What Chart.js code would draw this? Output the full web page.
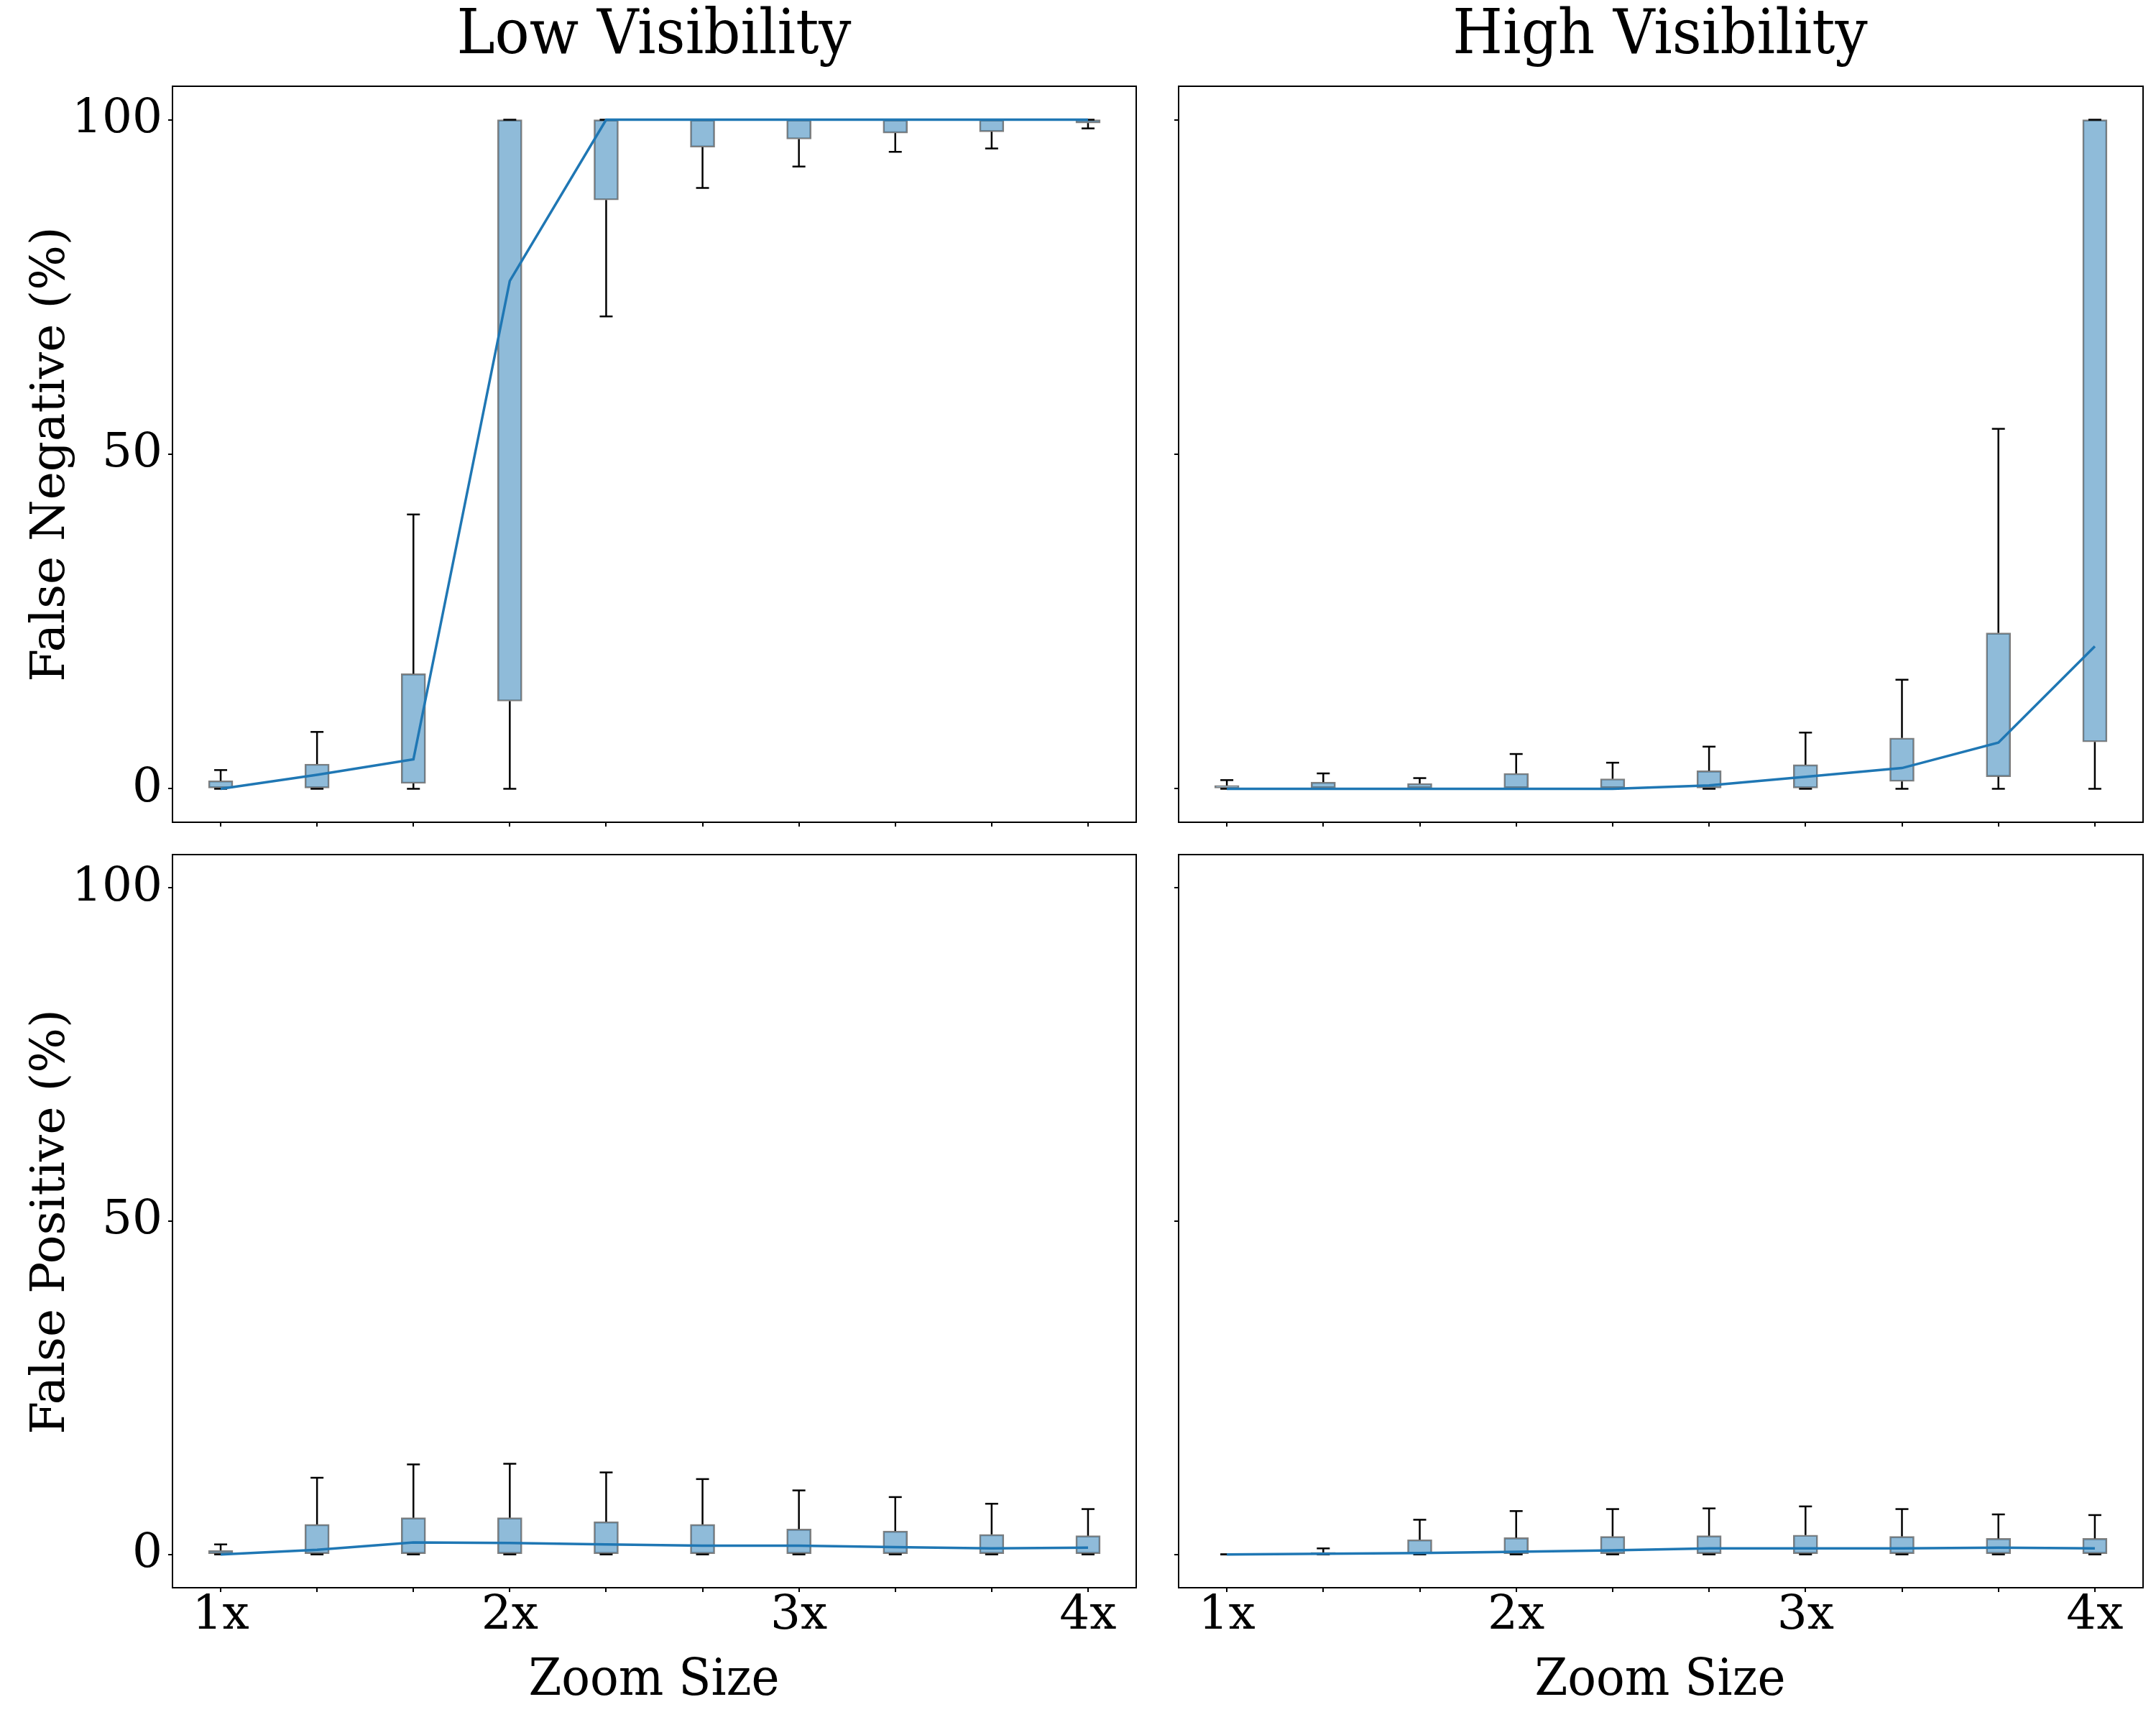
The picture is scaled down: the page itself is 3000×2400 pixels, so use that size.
<!DOCTYPE html>
<html>
<head>
<meta charset="utf-8">
<script src="https://cdn.jsdelivr.net/npm/chart.js@4.4.1/dist/chart.umd.min.js"></script>
<style>
  body { margin: 0; background: #fff; }
  #page { position: relative; width: 3000px; height: 2400px; background: #fff; font-family: 'DejaVu Serif', serif; }
  canvas { position: absolute; }
  .txt { position: absolute; transform: translate(-50%, -50%) scaleY(1.08); white-space: nowrap; color: #000; }
  .rot { transform: translate(-50%, -50%) rotate(-90deg); }
</style>
</head>
<body>
<div id="page">
  <div class="txt" style="left:910px; top:44px; font-size:80px;">Low Visibility</div>
  <div class="txt" style="left:2310px; top:44px; font-size:80px;">High Visibility</div>
  <div class="txt rot" style="left:66px; top:632px; font-size:66px;">False Negative (%)</div>
  <div class="txt rot" style="left:66px; top:1700px; font-size:66px;">False Positive (%)</div>
  <div class="txt" style="left:910px; top:2334px; font-size:66px;">Zoom Size</div>
  <div class="txt" style="left:2310px; top:2334px; font-size:66px;">Zoom Size</div>
  <canvas id="tl"></canvas>
  <canvas id="tr"></canvas>
  <canvas id="bl"></canvas>
  <canvas id="br"></canvas>
</div>
<script>
// zoom sizes, one box per step
var zoomSizes = ['1x', '1.33x', '1.67x', '2x', '2.33x', '2.67x', '3x', '3.33x', '3.67x', '4x'];
var tickLabels = ['1x', '', '', '2x', '', '', '3x', '', '', '4x'];
var yTicks = [0, 50, 100];

// False negative, low visibility
var lowFnQ1 = [0, 0, 0.8, 13.1, 88, 95.9, 97.1, 98.0, 98.2, 99.5];
var lowFnQ3 = [1.2, 3.7, 17.2, 100, 100, 100, 100, 100, 100, 100];
var lowFnLo = [0, 0, 0, 0, 70.6, 89.8, 93.0, 95.2, 95.7, 98.7];
var lowFnHi = [2.8, 8.5, 41, 100, 100, 100, 100, 100, 100, 100];
var lowFnMid = [0, 2.1, 4.4, 75.9, 100, 100, 100, 100, 100, 100];

// False negative, high visibility
var highFnQ1 = [0, 0, 0, 0, 0, 0, 0, 1.1, 1.8, 7.0];
var highFnQ3 = [0.5, 1.0, 0.8, 2.3, 1.5, 2.7, 3.6, 7.6, 23.3, 100];
var highFnLo = [0, 0, 0, 0, 0, 0, 0, 0, 0, 0];
var highFnHi = [1.3, 2.3, 1.6, 5.2, 3.9, 6.3, 8.4, 16.3, 53.8, 100];
var highFnMid = [0, 0, 0, 0, 0, 0.5, 1.8, 3.1, 6.9, 21.3];

// False positive, low visibility
var lowFpQ1 = [0, 0, 0, 0, 0, 0, 0, 0, 0, 0];
var lowFpQ3 = [0.6, 4.5, 5.5, 5.5, 4.9, 4.5, 3.8, 3.5, 3.0, 2.8];
var lowFpLo = [0, 0, 0, 0, 0, 0, 0, 0, 0, 0];
var lowFpHi = [1.5, 11.5, 13.5, 13.6, 12.3, 11.3, 9.6, 8.6, 7.6, 6.8];
var lowFpMid = [0, 0.7, 1.8, 1.7, 1.5, 1.3, 1.3, 1.1, 0.9, 1.0];

// False positive, high visibility
var highFpQ1 = [0, 0, 0, 0, 0, 0, 0, 0, 0, 0];
var highFpQ3 = [0, 0.3, 2.2, 2.5, 2.7, 2.8, 2.9, 2.7, 2.4, 2.4];
var highFpLo = [0, 0, 0, 0, 0, 0, 0, 0, 0, 0];
var highFpHi = [0, 0.9, 5.2, 6.5, 6.8, 6.9, 7.2, 6.8, 6.0, 5.9];
var highFpMid = [0, 0.1, 0.2, 0.4, 0.6, 0.9, 0.9, 0.9, 1.0, 0.9];

var FONT = "'DejaVu Serif', serif";

// whiskers + caps, drawn through the chart scales
var whiskerPlugin = {
  id: 'whiskers',
  beforeDatasetsDraw: (chart) => {
    var w = chart.options.plugins.whiskers;
    var xs = chart.scales.x, ys = chart.scales.y, ctx = chart.ctx;
    ctx.save();
    ctx.strokeStyle = '#000';
    ctx.lineWidth = 2.5;
    w.q1.forEach((q1, i) => {
      var px = xs.getPixelForValue(i);
      var segs = [[q1, w.lo[i]], [w.q3[i], w.hi[i]]];
      for (const [a, b] of segs) {
        ctx.beginPath();
        ctx.moveTo(px, ys.getPixelForValue(a));
        ctx.lineTo(px, ys.getPixelForValue(b));
        ctx.stroke();
        ctx.beginPath();
        ctx.moveTo(px - 9, ys.getPixelForValue(b));
        ctx.lineTo(px + 9, ys.getPixelForValue(b));
        ctx.stroke();
      }
    });
    ctx.restore();
  },
  afterDraw: (chart) => {
    var a = chart.chartArea, ctx = chart.ctx;
    ctx.save();
    ctx.strokeStyle = '#000';
    ctx.lineWidth = 2;
    ctx.strokeRect(a.left, a.top, a.right - a.left, a.bottom - a.top);
    ctx.restore();
  }
};

var makePanel = (id, box, d, showX, showY) => {
  // box = chart area in page pixels
  var yW = showY ? 240 : 24;
  var xH = showX ? 120 : 24;
  var padTop = 10, padRight = 12;
  var canvas = document.getElementById(id);
  canvas.style.left = (box.left - yW) + 'px';
  canvas.style.top = (box.top - padTop) + 'px';
  canvas.width = box.right - box.left + yW + padRight;
  canvas.height = box.bottom - box.top + xH + padTop;

  return new Chart(canvas, {
    type: 'bar',
    data: {
      labels: zoomSizes,
      datasets: [
        {
          type: 'line',
          data: d.mid,
          borderColor: '#1f77b4',
          borderWidth: 3.5,
          pointRadius: 0,
          tension: 0,
          order: 0
        },
        {
          type: 'bar',
          data: d.q1.map((v, i) => [v, d.q3[i]]),
          backgroundColor: 'rgba(31,119,180,0.5)',
          borderColor: 'rgba(0,0,0,0.5)',
          borderWidth: 2,
          borderSkipped: false,
          barThickness: 34,
          order: 1
        }
      ]
    },
    options: {
      responsive: false,
      animation: false,
      devicePixelRatio: 1,
      layout: { padding: { top: padTop, right: padRight, left: 0, bottom: 0 } },
      plugins: {
        legend: { display: false },
        tooltip: { enabled: false },
        whiskers: d
      },
      scales: {
        x: {
          type: 'category',
          offset: true,
          grid: { offset: false, drawOnChartArea: false, drawTicks: true, tickLength: 6, color: '#000', lineWidth: 2 },
          border: { display: false },
          ticks: {
            autoSkip: false,
            maxRotation: 0,
            padding: -6,
            color: '#000',
            font: { family: FONT, size: 66 },
            callback: (v, i) => showX ? tickLabels[i] : ''
          },
          afterFit: (s) => {
            s.height = xH;
            s.paddingLeft = 0;
            s.paddingRight = 0;
          }
        },
        y: {
          min: -5,
          max: 105,
          grid: { drawOnChartArea: false, drawTicks: true, tickLength: 6, color: '#000', lineWidth: 2 },
          border: { display: false },
          afterBuildTicks: (s) => { s.ticks = yTicks.map(v => ({ value: v })); },
          ticks: {
            padding: 8,
            color: '#000',
            font: { family: FONT, size: 66 },
            callback: (v) => showY ? String(v) : ''
          },
          afterFit: (s) => {
            s.width = yW;
            s.paddingTop = 0;
            s.paddingBottom = 0;
          }
        }
      }
    },
    plugins: [whiskerPlugin]
  });
};

makePanel('tl', { left: 240, right: 1581, top: 120, bottom: 1144 },
  { q1: lowFnQ1, q3: lowFnQ3, lo: lowFnLo, hi: lowFnHi, mid: lowFnMid }, false, true);
makePanel('tr', { left: 1640, right: 2982, top: 120, bottom: 1144 },
  { q1: highFnQ1, q3: highFnQ3, lo: highFnLo, hi: highFnHi, mid: highFnMid }, false, false);
makePanel('bl', { left: 240, right: 1581, top: 1189, bottom: 2209 },
  { q1: lowFpQ1, q3: lowFpQ3, lo: lowFpLo, hi: lowFpHi, mid: lowFpMid }, true, true);
makePanel('br', { left: 1640, right: 2982, top: 1189, bottom: 2209 },
  { q1: highFpQ1, q3: highFpQ3, lo: highFpLo, hi: highFpHi, mid: highFpMid }, true, false);
</script>
</body>
</html>
